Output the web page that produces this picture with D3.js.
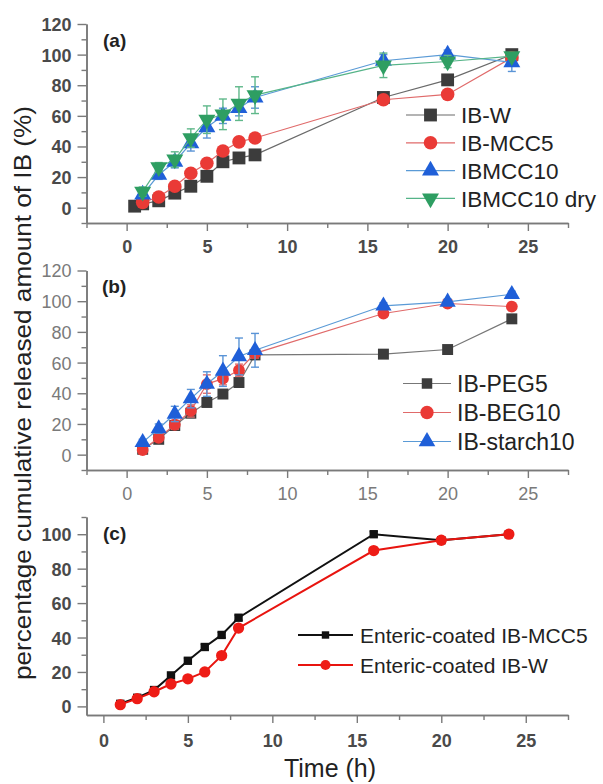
<!DOCTYPE html>
<html>
<head>
<meta charset="utf-8">
<script src="https://cdn.jsdelivr.net/npm/d3@7"></script>
<style>
  html, body { margin: 0; padding: 0; background: #fff; }
  svg { display: block; }
  text { font-family: "Liberation Sans", Arial, sans-serif; }
</style>
</head>
<body>
<svg id="chart" width="603" height="784"></svg>
<script>
// ---- Panel (a): release from IB-W / MCC formulations ----
const timeA = [1, 2, 3, 4, 5, 6, 7, 8, 16, 20, 24];
const timeAW = [0.5, 1, 2, 3, 4, 5, 6, 7, 8, 16, 20, 24];
const ibW      = [1, 2.5, 4.5, 9.5, 14, 20.5, 30, 32.5, 34.5, 72, 83.5, 100];
const ibMCC5   = [3.5, 7, 14, 22.5, 29, 37, 43, 45.5, 70.5, 74, 98];
const ibMCC10  = [8.5, 21.5, 30, 42, 52.5, 60, 65, 72, 96, 100, 95];
const ibMCC10dry = [10.5, 26.5, 31.5, 45.5, 57.5, 61, 68, 73.5, 93, 95.5, 99];
const errMCC10    = [2, 3, 4, 5, 7, 5, 5, 7, 4, 3, 6];
const errMCC10dry = [3, 3, 5, 6, 9, 10, 11, 12, 8, 4, 2];

// ---- Panel (b): PEG / BEG / starch formulations ----
const timeB = [1, 2, 3, 4, 5, 6, 7, 8, 16, 20, 24];
const ibPEG5    = [3.5, 10, 19, 27, 34, 39.5, 47, 65, 65.5, 68.5, 88.5];
const ibBEG10   = [3, 11, 19.5, 28.5, 46, 49.5, 55, 66, 92, 98.5, 96.5];
const ibStarch10 = [8, 17, 26.5, 36.5, 46, 54.5, 64, 68, 97, 99.5, 104.5];
const errBEG10   = [2, 2, 3, 4, 6, 4, 4, 3, 2, 2, 2];
const errStarch10 = [2, 3, 5, 6, 8, 10, 12, 11, 2, 2, 2];

// ---- Panel (c): enteric-coated tablets ----
const timeC = [1, 2, 3, 4, 5, 6, 7, 8, 16, 20, 24];
const ecMCC5 = [1.5, 5, 9.5, 18, 26.5, 34.5, 41.5, 51.5, 100, 96.5, 100];
const ecW    = [1, 4.5, 8.5, 13, 16, 20, 29.5, 45.5, 90.5, 96.5, 100];

const xTicks = [0, 5, 10, 15, 20, 25];
const yTicksAB = [0, 20, 40, 60, 80, 100, 120];
const yTicksC = [0, 20, 40, 60, 80, 100];

const legendA = ["IB-W", "IB-MCC5", "IBMCC10", "IBMCC10 dry"];
const legendB = ["IB-PEG5", "IB-BEG10", "IB-starch10"];
const legendC = ["Enteric-coated IB-MCC5", "Enteric-coated IB-W"];

const svg = d3.select("#chart");

const COL = {
  sqFill: "#3c3c3c", sqLine: "#6a6a6a",
  redFill: "#ea3a36", redLine: "#e06a6a",
  blueFill: "#1f5fd8", blueLine: "#5a9ad6",
  greenFill: "#2e9e62", greenLine: "#55b488", greenErr: "#5fb88a", blueErr: "#5a94d6"
};

function sym(type, size, rot) {
  return { path: d3.symbol().type(type).size(size)(), rot: rot || 0 };
}

function drawAxes(g, x, y, opt) {
  const axisColor = "#7a7a7a";
  // minor ticks between the labelled ones
  const xMin = d3.range(-2.5, 27.6, 2.5).filter(v => v >= x.domain()[0] - 1e-6 && !opt.xTicks.includes(v));
  const yMin = d3.range(-10, 121, 10).filter(v => v >= y.domain()[0] - 1e-6 && v <= y.domain()[1] + 1e-6 && !opt.yTicks.includes(v));

  const gx = g.append("g").attr("transform", `translate(0,${y.range()[0]})`);
  gx.call(d3.axisBottom(x).tickValues(opt.xTicks).tickSize(8).tickSizeOuter(0).tickPadding(5).tickFormat(d3.format("d")));
  gx.append("g").call(d3.axisBottom(x).tickValues(xMin).tickSize(5).tickSizeOuter(0).tickFormat(""));

  const gy = g.append("g").attr("transform", `translate(${x.range()[0]},0)`);
  gy.call(d3.axisLeft(y).tickValues(opt.yTicks).tickSize(9).tickSizeOuter(0).tickPadding(6).tickFormat(d3.format("d")));
  gy.append("g").call(d3.axisLeft(y).tickValues(yMin).tickSize(5).tickSizeOuter(0).tickFormat(""));

  g.selectAll(".domain").attr("stroke", axisColor).attr("stroke-width", 1.6);
  g.selectAll(".tick line").attr("stroke", axisColor).attr("stroke-width", 1.4);
  g.selectAll(".tick text")
    .attr("fill", opt.labelColor)
    .attr("font-size", opt.labelSize)
    .attr("font-weight", opt.labelWeight)
    .style("font-family", "'Liberation Sans', Arial, sans-serif");
  gx.selectAll(".tick text").attr("dy", opt.xDy);
  gy.selectAll(".tick text").attr("dy", "0.36em");
}

function drawSeries(g, x, y, s) {
  const pts = s.t.map((t, i) => ({ t, v: s.v[i], e: s.err ? s.err[i] : 0 }));
  g.append("path")
    .datum(pts)
    .attr("fill", "none")
    .attr("stroke", s.line)
    .attr("stroke-width", s.lw)
    .attr("d", d3.line().x(d => x(d.t)).y(d => y(d.v)));
  if (s.err) {
    const eg = g.append("g").attr("stroke", s.errColor).attr("stroke-width", 1.4);
    pts.filter(d => d.e > 0).forEach(d => {
      const cx = x(d.t);
      eg.append("line").attr("x1", cx).attr("x2", cx).attr("y1", y(d.v - d.e)).attr("y2", y(d.v + d.e));
      eg.append("line").attr("x1", cx - 4).attr("x2", cx + 4).attr("y1", y(d.v + d.e)).attr("y2", y(d.v + d.e));
      eg.append("line").attr("x1", cx - 4).attr("x2", cx + 4).attr("y1", y(d.v - d.e)).attr("y2", y(d.v - d.e));
    });
  }
  g.append("g").selectAll("path")
    .data(pts)
    .join("path")
    .attr("d", s.sym.path)
    .attr("transform", d => `translate(${x(d.t)},${y(d.v)}) rotate(${s.sym.rot})`)
    .attr("fill", s.fill)
    .attr("stroke", s.stroke || "none")
    .attr("stroke-width", 0.8);
}

function drawLegend(g, items, opt) {
  items.forEach((s, i) => {
    const yy = opt.y0 + i * opt.dy;
    g.append("line")
      .attr("x1", opt.x1).attr("x2", opt.x2).attr("y1", yy).attr("y2", yy)
      .attr("stroke", s.line).attr("stroke-width", s.lw);
    g.append("path")
      .attr("d", s.legSym.path)
      .attr("transform", `translate(${(opt.x1 + opt.x2) / 2},${yy}) rotate(${s.legSym.rot})`)
      .attr("fill", s.fill);
    g.append("text")
      .attr("x", opt.tx).attr("y", yy)
      .attr("dy", "0.36em")
      .attr("font-size", opt.size)
      .attr("fill", "#222")
      .text(s.name);
  });
}

// ---------- Panel (a) ----------
{
  const g = svg.append("g");
  const x = d3.scaleLinear().domain([-2.5, 27.5]).range([86.5, 568]);
  const y = d3.scaleLinear().domain([-10, 120]).range([223, 24]);
  drawAxes(g, x, y, { xTicks, yTicks: yTicksAB, labelColor: "#4a4a4a", labelSize: 18, labelWeight: "bold", xDy: "0.95em" });
  const series = [
    { name: legendA[0], t: timeAW, v: ibW, line: COL.sqLine, fill: COL.sqFill, lw: 1.2, sym: sym(d3.symbolSquare, 165), legSym: sym(d3.symbolSquare, 165) },
    { name: legendA[1], t: timeA, v: ibMCC5, line: COL.redLine, fill: COL.redFill, lw: 1.2, sym: sym(d3.symbolCircle, 145), legSym: sym(d3.symbolCircle, 145) },
    { name: legendA[2], t: timeA, v: ibMCC10, err: errMCC10, errColor: COL.blueErr, line: COL.blueLine, fill: COL.blueFill, lw: 1.2, sym: sym(d3.symbolTriangle, 125), legSym: sym(d3.symbolTriangle, 125) },
    { name: legendA[3], t: timeA, v: ibMCC10dry, err: errMCC10dry, errColor: COL.greenErr, line: COL.greenLine, fill: COL.greenFill, lw: 1.2, sym: sym(d3.symbolTriangle, 125, 180), legSym: sym(d3.symbolTriangle, 125, 180) }
  ];
  series.forEach(s => drawSeries(g, x, y, s));
  g.append("text").attr("x", 103).attr("y", 47).attr("font-size", 19).attr("font-weight", "bold").attr("fill", "#222").text("(a)");
  drawLegend(g, series, { x1: 406, x2: 455, tx: 461, y0: 115, dy: 27.8, size: 22.5 });
}

// ---------- Panel (b) ----------
{
  const g = svg.append("g");
  const x = d3.scaleLinear().domain([-2.5, 27.5]).range([86.5, 568]);
  const y = d3.scaleLinear().domain([-10, 120]).range([470, 270.5]);
  drawAxes(g, x, y, { xTicks, yTicks: yTicksAB, labelColor: "#7a7a7a", labelSize: 18, labelWeight: "normal", xDy: "0.95em" });
  const series = [
    { name: legendB[0], t: timeB, v: ibPEG5, line: "#777", fill: COL.sqFill, lw: 1.2, sym: sym(d3.symbolSquare, 120), legSym: sym(d3.symbolSquare, 110) },
    { name: legendB[1], t: timeB, v: ibBEG10, err: errBEG10, errColor: "#e07070", line: COL.redLine, fill: COL.redFill, lw: 1.2, sym: sym(d3.symbolCircle, 110), legSym: sym(d3.symbolCircle, 140) },
    { name: legendB[2], t: timeB, v: ibStarch10, err: errStarch10, errColor: COL.blueErr, line: COL.blueLine, fill: COL.blueFill, lw: 1.2, sym: sym(d3.symbolTriangle, 115), legSym: sym(d3.symbolTriangle, 120) }
  ];
  series.forEach(s => drawSeries(g, x, y, s));
  g.append("text").attr("x", 102).attr("y", 293).attr("font-size", 19).attr("font-weight", "bold").attr("fill", "#222").text("(b)");
  drawLegend(g, series, { x1: 403, x2: 451, tx: 457, y0: 383.5, dy: 29, size: 23 });
}

// ---------- Panel (c) ----------
{
  const g = svg.append("g");
  const x = d3.scaleLinear().domain([-1, 27.5]).range([86.5, 568]);
  const y = d3.scaleLinear().domain([-5, 110]).range([715, 517]);
  drawAxes(g, x, y, { xTicks, yTicks: yTicksC, labelColor: "#4a4a4a", labelSize: 18, labelWeight: "bold", xDy: "1.05em" });
  const series = [
    { name: legendC[0], t: timeC, v: ecMCC5, err: ecMCC5.map(() => 1.5), errColor: "#111", line: "#111", fill: "#111", lw: 2, sym: sym(d3.symbolSquare, 70), legSym: sym(d3.symbolSquare, 55) },
    { name: legendC[1], t: timeC, v: ecW, err: ecW.map(() => 1.5), errColor: "#e8140f", line: "#e8140f", fill: "#ee1c16", lw: 2, sym: sym(d3.symbolCircle, 100), legSym: sym(d3.symbolCircle, 80) }
  ];
  series.forEach(s => drawSeries(g, x, y, s));
  g.append("text").attr("x", 103).attr("y", 540).attr("font-size", 19).attr("font-weight", "bold").attr("fill", "#222").text("(c)");
  drawLegend(g, series, { x1: 298, x2: 353, tx: 360, y0: 635, dy: 30, size: 21 });
}

// ---------- Shared axis titles ----------
svg.append("text")
  .attr("x", 330).attr("y", 777)
  .attr("text-anchor", "middle")
  .attr("font-size", 25)
  .attr("fill", "#222")
  .text("Time (h)");

svg.append("text")
  .attr("transform", "translate(31,393) rotate(-90)")
  .attr("text-anchor", "middle")
  .attr("font-size", 24)
  .attr("textLength", 574)
  .attr("lengthAdjust", "spacingAndGlyphs")
  .attr("fill", "#222")
  .text("percentage cumulative released amount of IB (%)");
</script>
</body>
</html>
